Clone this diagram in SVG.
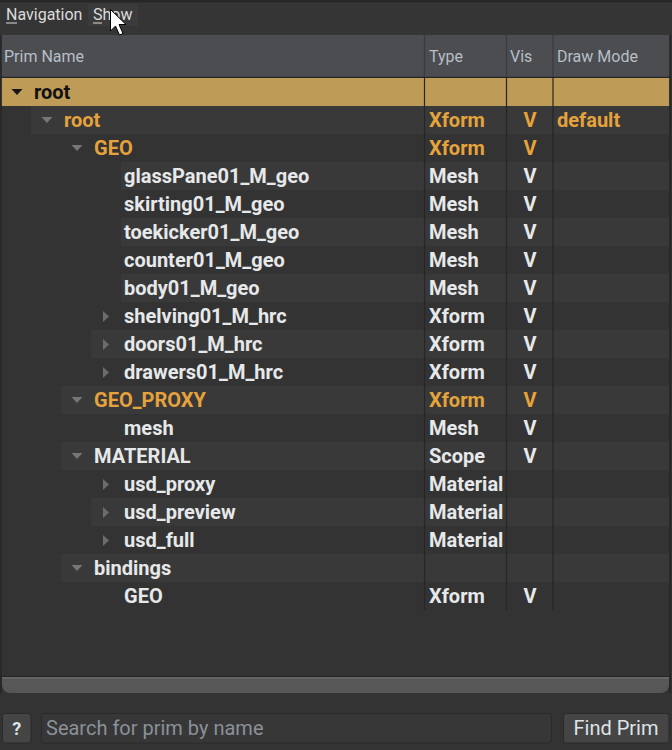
<svg xmlns="http://www.w3.org/2000/svg" width="672" height="750" viewBox="0 0 672 750">
<style>
text{font-family:Roboto,"Liberation Sans",sans-serif}
.menu{font-size:16px;fill:#dcdcdc}
.hdr{font-size:16px;fill:#b7bfc7}
.t{font-size:20px;font-weight:700;fill:#e6e8ea}
.o{fill:#e6a23c}
.k{fill:#111111}
.v{text-anchor:middle}
.alt{fill:#393939}
.dn{fill:#767676}
.rt{fill:#6c6c6c}
.sep{stroke:#262626;stroke-width:1.2}
.hsep{stroke:#3a3b3e;stroke-width:1.2}
.btn{fill:#454545;stroke:#2a2a2a;stroke-width:1}
.bt{font-size:20px;fill:#dfe3e8}
</style>
<rect x="0" y="0" width="672" height="750" fill="#333333"/>
<rect x="0" y="0" width="672" height="2.5" fill="#262626"/>
<g id="menubar">
<rect x="0" y="2.5" width="672" height="32.5" fill="#353535"/>
<rect x="88" y="4" width="50" height="22" fill="#3b3b3b"/>
<text class="menu" x="6" y="20">Navigation</text>
<line x1="6" y1="23" x2="17" y2="23" stroke="#dcdcdc" stroke-width="1"/>
<text class="menu" x="93" y="20">Show</text>
<line x1="93" y1="23" x2="102" y2="23" stroke="#dcdcdc" stroke-width="1"/>
</g>
<g id="header">
<rect x="1" y="35" width="669" height="42" fill="#4b4d51"/>
<line class="hsep" x1="424.5" y1="35" x2="424.5" y2="77"/>
<line class="hsep" x1="506.5" y1="35" x2="506.5" y2="77"/>
<line class="hsep" x1="553" y1="35" x2="553" y2="77"/>
<line x1="1" y1="77.3" x2="670" y2="77.3" stroke="#262626" stroke-width="1.2"/>
<text class="hdr" x="4" y="62">Prim Name</text>
<text class="hdr" x="429" y="62">Type</text>
<text class="hdr" x="510" y="62">Vis</text>
<text class="hdr" x="557" y="62">Draw Mode</text>
</g>
<g id="rows">
<g id="row-root-selected">
<rect x="1.5" y="78" width="668" height="28" fill="#be9b57"/>
<polygon points="11.5,89 22.5,89 17,95" fill="#151515"/>
<text class="t k" x="34" y="99">root</text>
</g>
<g id="row-root">
<rect class="alt" x="31" y="106" width="638.5" height="28"/>
<polygon class="dn" points="41.5,117 52.5,117 47,123"/>
<text class="t o" x="64" y="127">root</text>
<text class="t o" x="429" y="127">Xform</text>
<text class="t o v" x="530" y="127">V</text>
<text class="t o" x="557" y="127">default</text>
</g>
<g id="row-GEO">
<polygon class="dn" points="71.5,145 82.5,145 77,151"/>
<text class="t o" x="94" y="155">GEO</text>
<text class="t o" x="429" y="155">Xform</text>
<text class="t o v" x="530" y="155">V</text>
</g>
<g id="row-glassPane01_M_geo">
<rect class="alt" x="121" y="162" width="548.5" height="28"/>
<text class="t" x="124" y="183">glassPane01_M_geo</text>
<text class="t" x="429" y="183">Mesh</text>
<text class="t v" x="530" y="183">V</text>
</g>
<g id="row-skirting01_M_geo">
<text class="t" x="124" y="211">skirting01_M_geo</text>
<text class="t" x="429" y="211">Mesh</text>
<text class="t v" x="530" y="211">V</text>
</g>
<g id="row-toekicker01_M_geo">
<rect class="alt" x="121" y="218" width="548.5" height="28"/>
<text class="t" x="124" y="239">toekicker01_M_geo</text>
<text class="t" x="429" y="239">Mesh</text>
<text class="t v" x="530" y="239">V</text>
</g>
<g id="row-counter01_M_geo">
<text class="t" x="124" y="267">counter01_M_geo</text>
<text class="t" x="429" y="267">Mesh</text>
<text class="t v" x="530" y="267">V</text>
</g>
<g id="row-body01_M_geo">
<rect class="alt" x="121" y="274" width="548.5" height="28"/>
<text class="t" x="124" y="295">body01_M_geo</text>
<text class="t" x="429" y="295">Mesh</text>
<text class="t v" x="530" y="295">V</text>
</g>
<g id="row-shelving01_M_hrc">
<polygon class="rt" points="103,311 103,322 109,316.5"/>
<text class="t" x="124" y="323">shelving01_M_hrc</text>
<text class="t" x="429" y="323">Xform</text>
<text class="t v" x="530" y="323">V</text>
</g>
<g id="row-doors01_M_hrc">
<rect class="alt" x="91" y="330" width="578.5" height="28"/>
<polygon class="rt" points="103,339 103,350 109,344.5"/>
<text class="t" x="124" y="351">doors01_M_hrc</text>
<text class="t" x="429" y="351">Xform</text>
<text class="t v" x="530" y="351">V</text>
</g>
<g id="row-drawers01_M_hrc">
<polygon class="rt" points="103,367 103,378 109,372.5"/>
<text class="t" x="124" y="379">drawers01_M_hrc</text>
<text class="t" x="429" y="379">Xform</text>
<text class="t v" x="530" y="379">V</text>
</g>
<g id="row-GEO_PROXY">
<rect class="alt" x="61" y="386" width="608.5" height="28"/>
<polygon class="dn" points="71.5,397 82.5,397 77,403"/>
<text class="t o" x="94" y="407">GEO_PROXY</text>
<text class="t o" x="429" y="407">Xform</text>
<text class="t o v" x="530" y="407">V</text>
</g>
<g id="row-mesh">
<text class="t" x="124" y="435">mesh</text>
<text class="t" x="429" y="435">Mesh</text>
<text class="t v" x="530" y="435">V</text>
</g>
<g id="row-MATERIAL">
<rect class="alt" x="61" y="442" width="608.5" height="28"/>
<polygon class="dn" points="71.5,453 82.5,453 77,459"/>
<text class="t" x="94" y="463">MATERIAL</text>
<text class="t" x="429" y="463">Scope</text>
<text class="t v" x="530" y="463">V</text>
</g>
<g id="row-usd_proxy">
<polygon class="rt" points="103,479 103,490 109,484.5"/>
<text class="t" x="124" y="491">usd_proxy</text>
<text class="t" x="429" y="491">Material</text>
</g>
<g id="row-usd_preview">
<rect class="alt" x="91" y="498" width="578.5" height="28"/>
<polygon class="rt" points="103,507 103,518 109,512.5"/>
<text class="t" x="124" y="519">usd_preview</text>
<text class="t" x="429" y="519">Material</text>
</g>
<g id="row-usd_full">
<polygon class="rt" points="103,535 103,546 109,540.5"/>
<text class="t" x="124" y="547">usd_full</text>
<text class="t" x="429" y="547">Material</text>
</g>
<g id="row-bindings">
<rect class="alt" x="61" y="554" width="608.5" height="28"/>
<polygon class="dn" points="71.5,565 82.5,565 77,571"/>
<text class="t" x="94" y="575">bindings</text>
</g>
<g id="row-bindings-GEO">
<text class="t" x="124" y="603">GEO</text>
<text class="t" x="429" y="603">Xform</text>
<text class="t v" x="530" y="603">V</text>
</g>
</g>
<g id="columns">
<line class="sep" x1="424.5" y1="78" x2="424.5" y2="610"/>
<line class="sep" x1="506.5" y1="78" x2="506.5" y2="610"/>
<line class="sep" x1="553" y1="78" x2="553" y2="610"/>
</g>
<g id="frame">
<line x1="1" y1="35" x2="1" y2="693" stroke="#262626" stroke-width="1.5"/>
<line x1="670" y1="35" x2="670" y2="693" stroke="#262626" stroke-width="1.5"/>
<line x1="1" y1="676.5" x2="670" y2="676.5" stroke="#262626" stroke-width="1.2"/>
</g>
<g id="scrollbar">
<path d="M2,677 H669 V685 A8,8 0 0 1 661,693 H10 A8,8 0 0 1 2,685 Z" fill="#575757"/>
<line x1="2" y1="677.8" x2="669" y2="677.8" stroke="#6e6e6e" stroke-width="1.2"/>
</g>
<g id="help-button">
<rect class="btn" x="2.5" y="713.5" width="28.5" height="29.5" rx="3"/>
<text class="bt" x="16.8" y="735" text-anchor="middle" font-weight="700" style="font-size:18px">?</text>
</g>
<g id="search-field">
<rect x="41.5" y="713.5" width="510" height="29.5" rx="3" fill="#373737" stroke="#2a2a2a"/>
<text x="46" y="735" style="font-size:20px;fill:#8a9198">Search for prim by name</text>
</g>
<g id="find-button">
<rect class="btn" x="563.5" y="713.5" width="105.5" height="29.5" rx="3"/>
<text class="bt" x="616" y="735" text-anchor="middle">Find Prim</text>
</g>
<g id="connectors"/>
<g id="cursor">
<path d="M110.5,9.5 V31 L115.5,26 L119.5,35 L123,33.5 L119,24.5 L126,24.5 Z" fill="#ffffff" stroke="#000000" stroke-width="1" stroke-linejoin="round"/>
</g>
</svg>
